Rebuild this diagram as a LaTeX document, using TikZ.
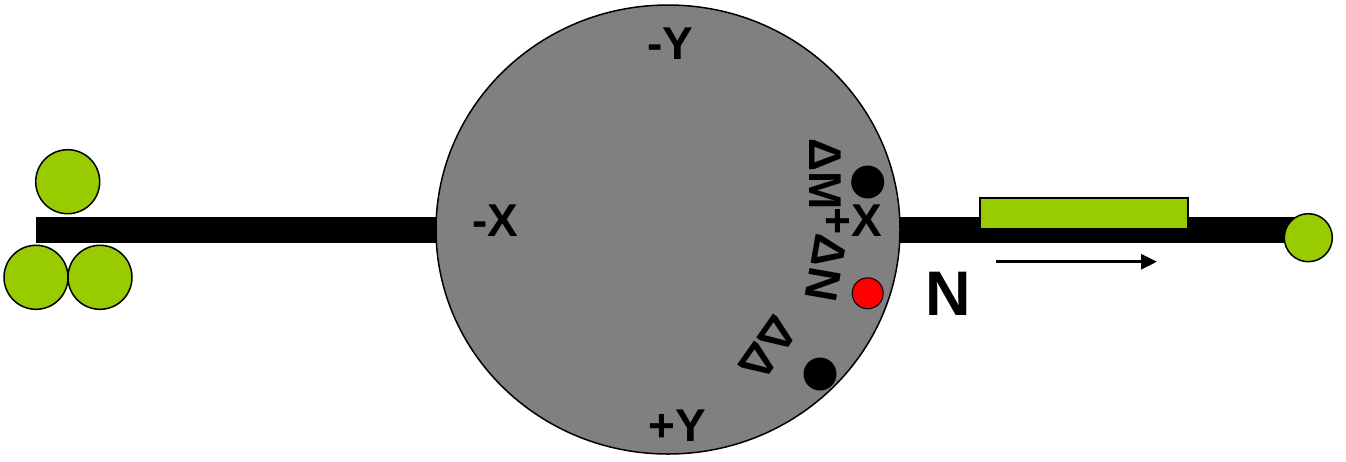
\documentclass[tikz,border=0pt]{standalone}
\usepackage{fontspec}
\setmainfont{Liberation Sans}
\usetikzlibrary{arrows.meta,shapes.geometric}
\definecolor{sgreen}{HTML}{99CC00}
\definecolor{sgray}{HTML}{808080}
\begin{document}
\begin{tikzpicture}[x=1pt,y=-1pt,
  lbl/.style={font=\fontsize{46}{50}\selectfont\bfseries, inner sep=0pt},
  ball/.style={circle, draw=black, line width=1.5pt, fill=sgreen, inner sep=0pt, minimum size=#1},
  thruster/.style={circle, fill=black, inner sep=0pt, minimum size=33pt},
  beam/.style={rectangle, fill=black, inner sep=0pt, minimum height=26pt}]
\useasboundingbox (0,0) rectangle (1346,461);
\fill[white] (0,0) rectangle (1346,461);
% boom
\node[beam, minimum width=1269pt, anchor=west] (boom) at (36,230) {};
% satellite body
\node[ellipse, draw=black, line width=1.5pt, fill=sgray, inner sep=0pt,
      minimum width=464pt, minimum height=449pt] (sat) at (668,229.5) {};
% axis labels
\node[lbl] (my) at (670,44) {-Y};
\node[lbl] (py) at (677,426) {+Y};
\node[lbl] (mx) at (495,221) {-X};
\node[lbl] (px) at (853,221) {+X};
% rotated labels
\node[lbl, rotate=-90] (dm) at (825,174) {ΔM};
\node[lbl, rotate=-100] (dn) at (826,268) {ΔN};
\node[lbl, rotate=-125] (da) at (768,349) {ΔΔ};
% thrusters
\node[thruster] (t1) at (867.7,182) {};
\node[thruster] (t2) at (820,374) {};
\node[circle, draw=black, line width=1pt, fill=red, inner sep=0pt, minimum size=31pt] (tr) at (867.7,293.3) {};
% left balls
\node[ball=64pt] (b1) at (67.7,181.7) {};
\node[ball=64pt] (b2) at (36,277.3) {};
\node[ball=64pt] (b3) at (100,277.3) {};
% right ball
\node[ball=48pt] (b4) at (1308.3,237.7) {};
% green sliding block
\node[rectangle, draw=black, line width=1.5pt, fill=sgreen, inner sep=0pt,
      minimum width=208pt, minimum height=31pt] (blk) at (1084,213.4) {};
% arrow and N
\coordinate (a1) at (996,261.7);
\coordinate (a2) at (1157,261.7);
\draw[line width=3pt, -{Triangle[length=16pt,width=15pt]}] (a1) -- (a2);
\node[font=\fontsize{63}{70}\selectfont\bfseries, inner sep=0pt] (nl) at (948,294) {N};
\end{tikzpicture}
\end{document}
